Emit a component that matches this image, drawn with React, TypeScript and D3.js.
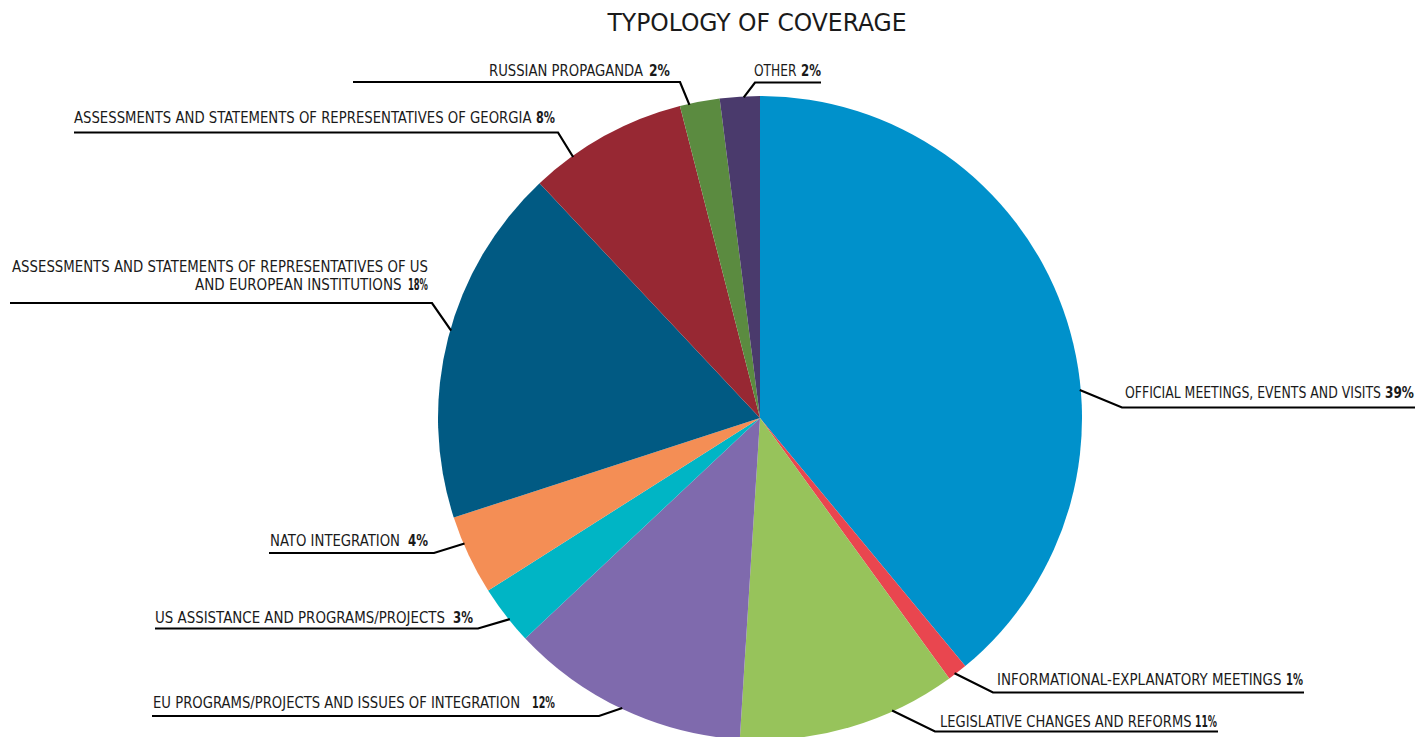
import React from "react";
import * as d3 from "d3";

const categories = [
  "OFFICIAL MEETINGS, EVENTS AND VISITS",
  "INFORMATIONAL-EXPLANATORY MEETINGS",
  "LEGISLATIVE CHANGES AND REFORMS",
  "EU PROGRAMS/PROJECTS AND ISSUES OF INTEGRATION",
  "US ASSISTANCE AND PROGRAMS/PROJECTS",
  "NATO INTEGRATION",
  "ASSESSMENTS AND STATEMENTS OF REPRESENTATIVES OF US AND EUROPEAN INSTITUTIONS",
  "ASSESSMENTS AND STATEMENTS OF REPRESENTATIVES OF GEORGIA",
  "RUSSIAN PROPAGANDA",
  "OTHER",
];
const values = [39, 1, 11, 12, 3, 4, 18, 8, 2, 2];
const colors = [
  "#0091CB", "#E9464F", "#97C35B", "#7F6AAD", "#00B5C5",
  "#F48E55", "#015A83", "#972833", "#5B8B40", "#4A3A6C",
];

// label layout: text lines (last line followed by bold percentage), leader line geometry
type Lbl = {
  lines: string[];
  starts: number[];
  ends: number[];
  bl: number[];
  pctStart: number;
  pctEnd: number;
  lineY: number;
  far: number;
  elbow: number;
  edgeDeg: number;
};
const labels: Lbl[] = [
  { lines: ["OFFICIAL MEETINGS, EVENTS AND VISITS"], starts: [1125], ends: [1381], bl: [398], pctStart: 1385, pctEnd: 1414, lineY: 407.5, far: 1415, elbow: 1122, edgeDeg: 85 },
  { lines: ["INFORMATIONAL-EXPLANATORY MEETINGS"], starts: [997], ends: [1281.5], bl: [685], pctStart: 1286, pctEnd: 1303, lineY: 692.5, far: 1304, elbow: 993, edgeDeg: 142.7 },
  { lines: ["LEGISLATIVE CHANGES AND REFORMS"], starts: [940], ends: [1191.5], bl: [727], pctStart: 1195, pctEnd: 1217, lineY: 731.5, far: 1218, elbow: 935, edgeDeg: 155.7 },
  { lines: ["EU PROGRAMS/PROJECTS AND ISSUES OF INTEGRATION"], starts: [153], ends: [520], bl: [708], pctStart: 532, pctEnd: 555, lineY: 716, far: 152, elbow: 599, edgeDeg: 205.4 },
  { lines: ["US ASSISTANCE AND PROGRAMS/PROJECTS"], starts: [155], ends: [445], bl: [622.5], pctStart: 453, pctEnd: 473, lineY: 628.5, far: 155, elbow: 478, edgeDeg: 231.2 },
  { lines: ["NATO INTEGRATION"], starts: [270], ends: [400], bl: [546], pctStart: 408, pctEnd: 428, lineY: 553, far: 269, elbow: 434, edgeDeg: 247 },
  { lines: ["ASSESSMENTS AND STATEMENTS OF REPRESENTATIVES OF US", "AND EUROPEAN INSTITUTIONS"], starts: [12, 195], ends: [428, 401.5], bl: [272, 290], pctStart: 408, pctEnd: 428, lineY: 303, far: 10, elbow: 432, edgeDeg: 285.8 },
  { lines: ["ASSESSMENTS AND STATEMENTS OF REPRESENTATIVES OF GEORGIA"], starts: [74], ends: [531.5], bl: [123], pctStart: 536, pctEnd: 555, lineY: 132.5, far: 74, elbow: 558, edgeDeg: 324.4 },
  { lines: ["RUSSIAN PROPAGANDA"], starts: [489], ends: [643], bl: [76], pctStart: 649, pctEnd: 670, lineY: 82, far: 353, elbow: 680, edgeDeg: 347.3 },
  { lines: ["OTHER"], starts: [754], ends: [796.5], bl: [76], pctStart: 801, pctEnd: 821, lineY: 82.5, far: 821, elbow: 755, edgeDeg: 357.1 },
];

const W = 1421;
const H = 737;
const cx = 760;
const cy = 418;
const R = 322;
const FONT = "'Liberation Sans Narrow', 'DejaVu Sans Condensed', 'Roboto', sans-serif";

export default function App() {
  const pie = d3.pie<number>().sort(null).value((d) => d).startAngle(0).endAngle(2 * Math.PI);
  const arcs = pie(values);
  const arc = d3.arc<d3.PieArcDatum<number>>().innerRadius(0).outerRadius(R);
  const line = d3.line();

  return (
    <svg width={W} height={H} style={{ position: "absolute", left: 0, top: 0, background: "#fff" }}>
      <text x={757} y={31} textAnchor="middle" fontFamily={FONT} fontSize={25} fill="#1a1a1a" textLength={299} lengthAdjust="spacingAndGlyphs">
        TYPOLOGY OF COVERAGE
      </text>
      <g transform={`translate(${cx},${cy})`}>
        {arcs.map((a, i) => (
          <path key={i} d={arc(a) || ""} fill={colors[i]} />
        ))}
      </g>
      {labels.map((l, i) => {
        const ang = (l.edgeDeg * Math.PI) / 180;
        const ex = cx + (R - 1) * Math.sin(ang);
        const ey = cy - (R - 1) * Math.cos(ang);
        const pts: [number, number][] = [[l.far, l.lineY], [l.elbow, l.lineY], [ex, ey]];
        const lastBl = l.bl[l.bl.length - 1];
        return (
          <g key={i}>
            <path d={line(pts) || ""} fill="none" stroke="#000" strokeWidth={2.2} strokeLinejoin="miter" />
            {l.lines.map((t, j) => (
              <text
                key={j}
                x={l.starts[j]}
                y={l.bl[j]}
                fontFamily={FONT}
                fontSize={15}
                fill="#1a1a1a"
                textLength={l.ends[j] - l.starts[j]}
                lengthAdjust="spacingAndGlyphs"
              >
                {t}
              </text>
            ))}
            <text
              x={l.pctStart}
              y={lastBl}
              fontFamily={FONT}
              fontSize={15}
              fontWeight="bold"
              fill="#1a1a1a"
              textLength={l.pctEnd - l.pctStart}
              lengthAdjust="spacingAndGlyphs"
            >
              {values[i]}%
            </text>
          </g>
        );
      })}
    </svg>
  );
}
